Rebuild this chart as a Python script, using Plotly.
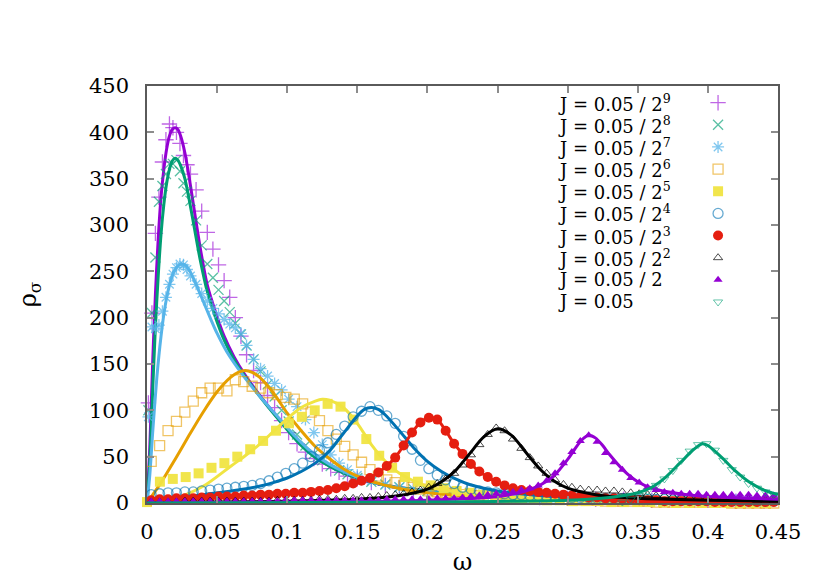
import plotly.graph_objects as go

# omega sample grids
W_FINE = [0.001, 0.0035, 0.006, 0.0085, 0.011, 0.0135, 0.016, 0.0185, 0.021, 0.0235,
          0.026, 0.0285, 0.031, 0.035, 0.039, 0.043, 0.047, 0.051, 0.055, 0.059,
          0.063, 0.067, 0.071, 0.076, 0.081, 0.086, 0.091, 0.096, 0.101, 0.107,
          0.113, 0.119, 0.125, 0.131, 0.137, 0.143, 0.15, 0.16, 0.17, 0.18,
          0.19, 0.2, 0.22, 0.24, 0.26, 0.28, 0.3, 0.32, 0.34, 0.36,
          0.38, 0.4, 0.42, 0.44]
W6 = [round(0.003 + 0.006 * i, 3) for i in range(75)]
W9 = [round(0.0092 * i, 4) for i in range(49)]

# measured points, one list per J
RHO_P9 = [108, 205, 291, 330, 368, 392, 409, 405, 400, 388,
          375, 365, 355, 338, 315, 292, 274, 257, 240, 222,
          200, 180, 160, 143, 130, 116, 103, 89, 76, 64,
          55, 48, 42, 37, 33, 29, 26, 22, 19, 16,
          14, 12, 10, 8, 7, 6, 5, 4, 4, 3, 3, 3, 2, 2]
RHO_X8 = [100, 205, 265, 325, 342, 355, 366, 366, 370, 358,
          345, 336, 326, 305, 278, 258, 243, 230, 218, 206,
          194, 182, 170, 155, 142, 128, 115, 100, 88, 74,
          62, 53, 46, 40, 35, 31, 27, 23, 20, 17,
          15, 13, 11, 9, 8, 7, 6, 5, 4, 4, 3, 3, 3, 2]
RHO_S7 = [93, 190, 188, 192, 207, 222, 236, 247, 254, 258,
          257, 252, 245, 236, 226, 218, 210, 204, 198, 193,
          189, 183, 170, 155, 145, 137, 129, 122, 112, 104,
          90, 76, 63, 52, 43, 36, 30, 24, 20, 17,
          15, 13, 11, 9, 8, 7, 6, 5, 4, 4, 3, 3, 3, 2]
RHO_Q6 = [45, 62, 78, 88, 98, 110, 119, 124, 124, 121,
          133, 131, 126, 124, 119, 117, 114, 112, 107, 98,
          89, 78, 69, 61, 52, 44, 36, 29, 25, 22,
          19, 17, 15, 13, 12, 11, 10, 9, 8, 8,
          7, 7, 6, 6, 5, 5, 5, 4, 4, 4,
          3, 3, 3, 3, 2, 2, 2, 2, 2, 2,
          1, 1, 1, 1, 1, 1, 1, 1, 1, 0,
          0, 0, 0, 0, 0]
RHO_Y5 = [1, 23, 26, 28, 32, 38, 43, 50, 58, 67,
          78, 86, 93, 100, 107, 104, 90, 69, 51, 38,
          28, 23, 19, 16, 13, 11, 9, 7, 6, 5,
          4, 3, 3, 2, 2, 2, 1, 1, 1, 1,
          1, 0, 0, 0, 0, 0, 0, 0, 0]
RHO_C4 = [9, 10, 11, 11, 12, 12, 13, 14, 15, 16,
          17, 18, 19, 21, 24, 28, 32, 37, 43, 50,
          57, 65, 74, 83, 93, 99, 104, 100, 94, 86,
          72, 58, 46, 37, 30, 25, 21, 17, 15, 13,
          12, 11, 10, 9, 9, 8, 8, 7, 7, 7,
          6, 6, 6, 5, 5, 5, 5, 4, 4, 4,
          4, 4, 3, 3, 3, 3, 3, 3, 3, 2,
          2, 2, 2, 2, 2]
RHO_R3 = [3, 4, 4, 5, 5, 5, 6, 6, 7, 7,
          7, 8, 8, 9, 9, 10, 10, 11, 11, 12,
          13, 14, 16, 18, 21, 24, 27, 33, 40, 49,
          62, 76, 87, 92, 90, 78, 64, 53, 42, 34,
          28, 23, 19, 16, 14, 13, 12, 11, 10, 9,
          8, 7, 6, 6, 5, 5, 4, 4, 3, 3,
          3, 2, 2, 2, 2, 2, 2, 1, 1, 1,
          1, 1, 1, 1, 1]
RHO_T2 = [1, 1, 1, 1, 2, 2, 2, 2, 2, 2,
          2, 2, 2, 2, 2, 3, 3, 3, 3, 3,
          4, 4, 4, 5, 5, 6, 6, 7, 8, 9,
          10, 12, 14, 17, 21, 26, 32, 41, 52, 63,
          74, 81, 78, 69, 59, 49, 40, 32, 25, 20,
          17, 15, 14, 14, 13, 13, 12, 11, 10, 9,
          8, 8, 7, 7, 6, 6, 5, 5, 5, 4,
          4, 4, 3, 3, 3]
RHO_U1 = [2, 2, 2, 2, 2, 2, 2, 2, 2, 2,
          2, 2, 2, 2, 2, 2, 3, 3, 3, 3,
          3, 3, 3, 3, 3, 3, 3, 3, 4, 4,
          4, 4, 4, 4, 5, 5, 5, 6, 7, 8,
          9, 10, 11, 12, 14, 16, 19, 24, 32, 43,
          55, 67, 73, 66, 54, 44, 36, 27, 22, 17,
          14, 12, 11, 10, 10, 10, 9, 9, 9, 9,
          9, 9, 8, 8, 8]
RHO_V0 = [-4] * 55 + [-2, 1, 4, 8, 13, 19, 26, 35, 46, 56,
                      63, 64, 57, 46, 36, 28, 21, 16, 12, 9]

# fitted curves
FW_A = [0, 0.002, 0.004, 0.006, 0.008, 0.010, 0.012, 0.014, 0.016, 0.018,
        0.020, 0.022, 0.024, 0.027, 0.030, 0.034, 0.038, 0.043, 0.048, 0.055,
        0.062, 0.070, 0.080, 0.090, 0.100, 0.110, 0.120, 0.135, 0.150, 0.170,
        0.200, 0.250, 0.300, 0.350, 0.400, 0.450]
FIT_9 = [0, 60, 150, 225, 285, 330, 360, 382, 396, 403,
         405, 403, 396, 378, 352, 313, 275, 235, 210, 180,
         158, 138, 117, 98, 80, 63, 50, 36, 27, 19,
         13, 6, 4, 3, 2, 1]
FIT_8 = [0, 45, 120, 190, 245, 290, 322, 345, 360, 369,
         372, 370, 364, 350, 328, 295, 262, 228, 204, 176,
         155, 136, 116, 97, 79, 62, 49, 36, 27, 19,
         13, 6, 4, 3, 2, 1]
FW_7 = [0, 0.002, 0.004, 0.007, 0.010, 0.013, 0.016, 0.019, 0.022, 0.025,
        0.028, 0.031, 0.035, 0.040, 0.045, 0.050, 0.057, 0.065, 0.075, 0.085,
        0.095, 0.105, 0.115, 0.130, 0.150, 0.170, 0.200, 0.250, 0.300, 0.350,
        0.400, 0.450]
FIT_7 = [0, 30, 75, 135, 180, 213, 235, 249, 256, 258,
         256, 249, 236, 218, 200, 183, 163, 145, 125, 107,
         90, 73, 58, 42, 28, 19, 12, 6, 4, 3, 2, 1]
FW_6 = [0, 0.01, 0.02, 0.03, 0.04, 0.05, 0.06, 0.065, 0.07, 0.075,
        0.08, 0.09, 0.10, 0.11, 0.12, 0.13, 0.14, 0.15, 0.17, 0.20,
        0.25, 0.30, 0.35, 0.40, 0.45]
FIT_6 = [0, 22, 47, 73, 98, 120, 136, 141, 143, 141,
         136, 119, 97, 78, 61, 48, 37, 29, 19, 11,
         6, 4, 3, 2, 1]
FW_5 = [0, 0.02, 0.04, 0.06, 0.07, 0.08, 0.09, 0.10, 0.11, 0.12,
        0.125, 0.13, 0.14, 0.15, 0.16, 0.17, 0.18, 0.19, 0.20, 0.22,
        0.25, 0.30, 0.35, 0.40, 0.45]
FIT_5 = [0, 5, 18, 40, 51, 63, 77, 91, 103, 110,
         112, 111, 103, 86, 63, 45, 32, 24, 18, 12,
         7, 4, 3, 2, 1]
FW_4 = [0, 0.02, 0.04, 0.06, 0.08, 0.09, 0.10, 0.11, 0.12, 0.13,
        0.14, 0.15, 0.155, 0.16, 0.165, 0.17, 0.18, 0.19, 0.20, 0.21,
        0.22, 0.23, 0.25, 0.28, 0.32, 0.38, 0.45]
FIT_4 = [0, 5, 9, 13, 18, 22, 27, 34, 43, 56,
         75, 94, 101, 103, 101, 95, 78, 60, 45, 34,
         26, 20, 13, 8, 5, 3, 2]
FW_2 = [0, 0.05, 0.1, 0.15, 0.18, 0.2, 0.21, 0.22, 0.23, 0.24,
        0.25, 0.26, 0.27, 0.28, 0.29, 0.3, 0.32, 0.35, 0.4, 0.45]
FIT_2 = [0, 1, 2, 4, 8, 15, 23, 35, 53, 71,
         80, 73, 55, 37, 24, 16, 9, 5, 3, 2]
FW_1 = [0, 0.1, 0.2, 0.25, 0.27, 0.28, 0.29, 0.30, 0.305, 0.31,
        0.315, 0.32, 0.325, 0.33, 0.34, 0.35, 0.36, 0.38, 0.4, 0.45]
FIT_1 = [0, 1, 3, 7, 13, 19, 29, 47, 58, 68,
         73, 70, 62, 52, 35, 23, 16, 10, 7, 4]
FW_0 = [0, 0.2, 0.3, 0.33, 0.35, 0.36, 0.37, 0.38, 0.39, 0.396,
        0.40, 0.41, 0.42, 0.43, 0.44, 0.45]
FIT_0 = [0, 1, 3, 6, 11, 17, 28, 43, 58, 64,
         62, 49, 34, 22, 14, 9]

LABELS = ["J = 0.05 / 2<sup>9</sup>", "J = 0.05 / 2<sup>8</sup>", "J = 0.05 / 2<sup>7</sup>",
          "J = 0.05 / 2<sup>6</sup>", "J = 0.05 / 2<sup>5</sup>", "J = 0.05 / 2<sup>4</sup>",
          "J = 0.05 / 2<sup>3</sup>", "J = 0.05 / 2<sup>2</sup>", "J = 0.05 / 2", "J = 0.05"]

X_TICKS = [0, 0.05, 0.1, 0.15, 0.2, 0.25, 0.3, 0.35, 0.4, 0.45]
X_TICKTEXT = ["0", "0.05", "0.1", "0.15", "0.2", "0.25", "0.3", "0.35", "0.4", "0.45"]

SERIES = [
    dict(w=W_FINE, r=RHO_P9, fw=FW_A, fr=FIT_9, line="#9400d3", mcol="rgba(148,0,211,0.6)",
         sym="cross-thin-open", size=11, lw=1.3),
    dict(w=W_FINE, r=RHO_X8, fw=FW_A, fr=FIT_8, line="#009e73", mcol="rgba(0,158,115,0.65)",
         sym="x-thin-open", size=10, lw=1.3),
    dict(w=W_FINE, r=RHO_S7, fw=FW_7, fr=FIT_7, line="#56b4e9", mcol="rgba(86,180,233,0.75)",
         sym="asterisk-open", size=10, lw=1.3),
    dict(w=W6, r=RHO_Q6, fw=FW_6, fr=FIT_6, line="#e69f00", mcol="rgba(230,159,0,0.6)",
         sym="square-open", size=10, lw=1.3),
    dict(w=W9, r=RHO_Y5, fw=FW_5, fr=FIT_5, line="#f0e442", mcol="rgba(240,228,66,0.95)",
         sym="square", size=10, lw=0),
    dict(w=W6, r=RHO_C4, fw=FW_4, fr=FIT_4, line="#0072b2", mcol="rgba(0,114,178,0.6)",
         sym="circle-open", size=10, lw=1.3),
    dict(w=W6, r=RHO_R3, fw=W6, fr=RHO_R3, line="#e51e10", mcol="rgba(229,30,16,1)",
         sym="circle", size=10, lw=0),
    dict(w=W6, r=RHO_T2, fw=FW_2, fr=FIT_2, line="#000000", mcol="rgba(0,0,0,0.7)",
         sym="triangle-up-open", size=8, lw=1),
    dict(w=W6, r=RHO_U1, fw=FW_1, fr=FIT_1, line="#9400d3", mcol="rgba(148,0,211,1)",
         sym="triangle-up", size=8, lw=0),
    dict(w=W6, r=RHO_V0, fw=FW_0, fr=FIT_0, line="#009e73", mcol="rgba(0,158,115,0.6)",
         sym="triangle-down-open", size=8, lw=1),
]

# the only serif face the renderer actually resolves
FONT = "DejaVu Serif"
LEG_X_TEXT, LEG_X_KEY, LEG_Y0, LEG_DY = 0.648, 0.905, 0.96, 0.0531

fig = go.Figure()
for s in SERIES:
    fig.add_trace(go.Scatter(
        x=s["w"][:len(s["r"])], y=s["r"], mode="markers", cliponaxis=False,
        marker=dict(symbol=s["sym"], size=s["size"], color=s["mcol"],
                    line=dict(width=s["lw"], color=s["mcol"])),
        hoverinfo="skip"))
    fig.add_trace(go.Scatter(
        x=s["fw"][:len(s["fr"])], y=s["fr"], mode="lines", cliponaxis=False,
        line=dict(color=s["line"], width=3, shape="spline", smoothing=0.8),
        hoverinfo="skip"))

# hand-made key: label on the left, symbol on the right
annotations = []
for i, (s, lab) in enumerate(zip(SERIES, LABELS)):
    yk = LEG_Y0 - i * LEG_DY
    fig.add_trace(go.Scatter(
        x=[LEG_X_KEY], y=[yk], xaxis="x2", yaxis="y2", mode="markers",
        marker=dict(symbol=s["sym"], size=s["size"], color=s["mcol"],
                    line=dict(width=s["lw"], color=s["mcol"])),
        hoverinfo="skip"))
    annotations.append(dict(x=LEG_X_TEXT, y=yk, xref="paper", yref="paper", text=lab,
                            showarrow=False, xanchor="left", yanchor="middle",
                            font=dict(family=FONT, size=18, color="black")))

axis_common = dict(showgrid=False, zeroline=False, showline=True, linecolor="#5a5a5a",
                   linewidth=1.5, mirror="ticks", ticks="inside", ticklen=7, tickwidth=1.5,
                   tickcolor="#8c8c8c", automargin=False,
                   tickfont=dict(family=FONT, size=21, color="black"))

# the page body adds an 8px offset, so margins are trimmed to land the frame in place
fig.update_layout(
    width=830, height=581,
    margin=dict(l=139, r=60, t=78, b=86),
    paper_bgcolor="white", plot_bgcolor="white",
    showlegend=False,
    font=dict(family=FONT, size=21, color="black"),
    annotations=annotations,
    xaxis=dict(range=[0, 0.45], tickvals=X_TICKS, ticktext=X_TICKTEXT, ticklabelstandoff=9,
               title=dict(text="ω", standoff=10, font=dict(family=FONT, size=24)), **axis_common),
    yaxis=dict(range=[0, 450], tick0=0, dtick=50, ticklabelstandoff=12,
               title=dict(text="ρ<sub>σ</sub>", standoff=46, font=dict(family=FONT, size=24)),
               **axis_common),
    xaxis2=dict(overlaying="x", range=[0, 1], visible=False),
    yaxis2=dict(overlaying="y", range=[0, 1], visible=False),
)

fig.write_html("out.html")
